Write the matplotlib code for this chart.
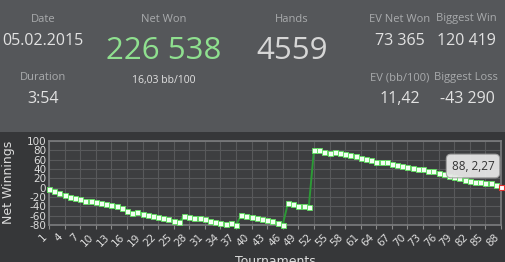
import matplotlib.pyplot as plt
import matplotlib.patches as mpatches
import matplotlib.transforms as mtransforms
import numpy as np

W, H = 506, 262

# session summary
date_value = "05.02.2015"
duration_value = "3:54"
net_won_value = "226 538"
bb_rate = "16,03 bb/100"
hands_value = "4559"
ev_net_won = "73 365"
biggest_win = "120 419"
ev_bb = "11,42"
biggest_loss = "-43 290"

# chart data
tournaments = list(range(1, 89))
net_winnings = [
    -3, -7, -11, -16, -20, -23, -25, -29, -29, -31,
    -33, -35, -37, -39, -44, -51, -54, -52, -56, -59,
    -61, -63, -65, -67, -71, -74, -60, -62, -64, -66,
    -68, -71, -74, -76, -78, -76, -80, -59, -61, -63,
    -65, -67, -69, -72, -75, -79, -33, -36, -39, -39,
    -42, 81, 81, 77, 74, 76, 74, 72, 70, 67,
    64, 62, 59, 56, 55, 54, 51, 49, 46, 44,
    42, 40, 39, 36, 35, 31, 29, 26, 23, 20,
    17, 14, 13, 12, 10, 9, 6, 2.27,
]
x_ticks = list(range(1, 89, 3))
y_ticks = list(range(-80, 101, 20))
tooltip = "88, 2,27"


def fx(px):
    return px / W


def fy(py):
    return 1 - py / H


fig = plt.figure(figsize=(W / 100, H / 100), dpi=100)
fig.patch.set_facecolor("#363739")

# top summary panel
fig.patches.append(mpatches.Rectangle((0, fy(132)), 1, 1 - fy(132), transform=fig.transFigure,
                                      facecolor="#55575a", edgecolor="none", zorder=0))

lab = dict(family="Open Sans", color="#a9abad", ha="center", va="center", fontsize=8)
val = dict(family="Open Sans", color="#e2e2e2", ha="center", va="center", fontsize=11.5)

fig.text(fx(43), fy(19), "Date", **lab)
fig.text(fx(43), fy(41), date_value, **val)
fig.text(fx(43), fy(78), "Duration", **lab)
fig.text(fx(43), fy(99), duration_value, **val)

fig.text(fx(164), fy(19), "Net Won", **lab)
fig.text(fx(164), fy(51), net_won_value, family="Open Sans", color="#8fe08f",
         ha="center", va="center", fontsize=22.5)
fig.text(fx(164), fy(80), bb_rate, family="Open Sans", color="#e2e2e2",
         ha="center", va="center", fontsize=7.5)

fig.text(fx(292), fy(19), "Hands", **lab)
fig.text(fx(292), fy(51), hands_value, family="Open Sans", color="#d6d6d6",
         ha="center", va="center", fontsize=22.5)

fig.text(fx(400), fy(19), "EV Net Won", **lab)
fig.text(fx(400), fy(41), ev_net_won, **val)
fig.text(fx(466), fy(19), "Biggest Win", **lab)
fig.text(fx(466), fy(41), biggest_win, **val)
fig.text(fx(400), fy(78), "EV (bb/100)", **lab)
fig.text(fx(400), fy(99), ev_bb, **val)
fig.text(fx(466), fy(78), "Biggest Loss", **lab)
fig.text(fx(467), fy(99), biggest_loss, **val)

# chart
ax = fig.add_axes([fx(49), fy(225), fx(501) - fx(49), fy(141) - fy(225)])
ax.set_facecolor("#3d3e40")
ax.plot(tournaments, net_winnings, color="#2c9a36", lw=1.4, marker="s", ms=3.6,
        mfc="#f2fff2", mec="#5ee05e", mew=0.6, clip_on=False, zorder=3)
ax.plot(tournaments[-1], net_winnings[-1], marker="s", ms=3.6, mfc="#ffffff",
        mec="#e03030", mew=0.8, clip_on=False, zorder=4)

ax.set_xlim(1, 88)
ax.set_ylim(-80, 100)
ax.set_xticks(x_ticks)
ax.set_xticklabels([str(t) for t in x_ticks], rotation=45, ha="right", va="top",
                   fontsize=7.5, color="#dcdcdc")
shift = mtransforms.ScaledTranslation(3 / 100, 0, fig.dpi_scale_trans)
for lbl in ax.get_xticklabels():
    lbl.set_transform(lbl.get_transform() + shift)
ax.set_yticks(y_ticks)
ax.set_yticklabels([str(t) for t in y_ticks], fontsize=7.5, color="#dcdcdc")
ax.tick_params(axis="x", length=3, color="#8a8a8a", pad=2)
ax.tick_params(axis="y", length=0, pad=2)
ax.grid(True, color="#58595b", lw=0.8)
ax.set_axisbelow(True)
for s in ax.spines.values():
    s.set_color("#7c7d7f")
    s.set_linewidth(1.2)

fig.text(fx(9), fy(182), "Net Winnings", rotation=90, fontsize=9, color="#dcdcdc",
         ha="center", va="center")
fig.text(fx(275), fy(255), "Tournaments", fontsize=9, color="#dcdcdc",
         ha="center", va="top")

# hover tooltip
fig.text(fx(473), fy(166), tooltip, family="Open Sans", fontsize=8.5, color="#333333",
         ha="center", va="center",
         bbox=dict(boxstyle="round,pad=0.45,rounding_size=0.4", facecolor="#e9e9e9",
                   edgecolor="#a0a0a0", alpha=0.93, lw=0.8))

fig.savefig("out.png", dpi=100, facecolor=fig.get_facecolor())
